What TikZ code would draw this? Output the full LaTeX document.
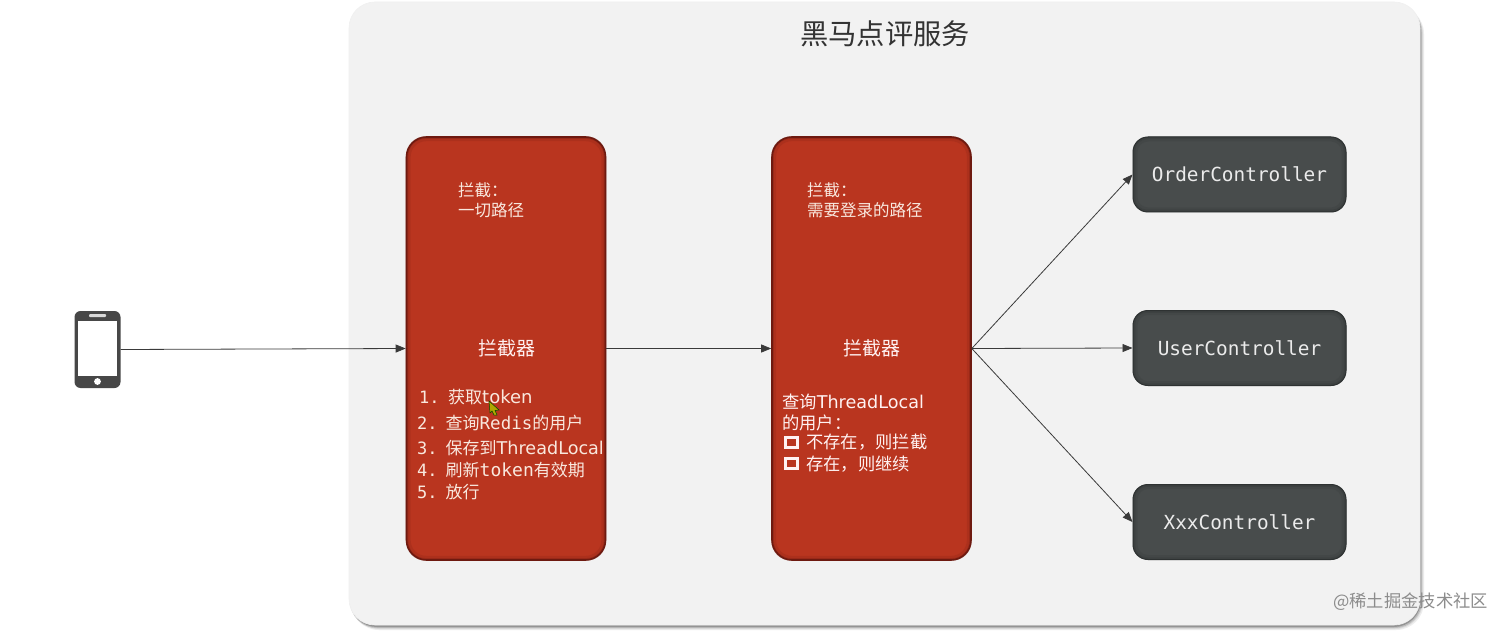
\documentclass[tikz,border=0pt]{standalone}
\usepackage{fontspec}
\setmainfont{Noto Sans CJK SC}
\newfontfamily\dvs{DejaVu Sans}
\newfontfamily\dvm{DejaVu Sans Mono}
\usetikzlibrary{arrows.meta}
\definecolor{panelc}{HTML}{F2F2F2}
\definecolor{redc}{HTML}{B9351F}
\definecolor{rededge}{HTML}{6E1A10}
\definecolor{darkc}{HTML}{484C4C}
\definecolor{darkedge}{HTML}{2E3232}
\definecolor{txtc}{HTML}{F9E8DE}
\definecolor{linec}{HTML}{3A3A3A}
\newcommand{\fs}[1]{\fontsize{#1pt}{#1pt}\selectfont}
\newcommand{\innerglow}[3]{%
  \draw[#2,line width=5pt,opacity=.16,rounded corners=#3] ([shift={(2.5pt,2.5pt)}]#1.south west) rectangle ([shift={(-2.5pt,-2.5pt)}]#1.north east);
  \draw[#2,line width=2.5pt,opacity=.28,rounded corners=#3] ([shift={(1.5pt,1.5pt)}]#1.south west) rectangle ([shift={(-1.5pt,-1.5pt)}]#1.north east);
}
\tikzset{
  x=1pt,y=-1pt,
  redbox/.style={draw=rededge,line width=1.6pt,fill=redc,rounded corners=20pt,minimum width=199pt,minimum height=423pt,inner sep=0pt},
  ctrl/.style={draw=darkedge,line width=1pt,fill=darkc,rounded corners=15pt,minimum width=213pt,minimum height=75pt,inner sep=0pt},
  ctrltext/.style={inner sep=0pt,text=white!92!black,font=\dvm\fs{19.4}},
  lbl/.style={anchor=west,inner sep=0pt,text=txtc,font=\fs{16.5}},
  mid/.style={inner sep=0pt,text=white!95!red,font=\fs{19}},
  item/.style={anchor=west,inner sep=0pt,text=txtc,font=\fs{17}},
  itemw/.style={anchor=west,inner sep=0pt,text=white!95!red,font=\fs{17.3}},
  chk/.style={draw=white!95!red,line width=3pt,minimum width=12pt,minimum height=10pt,inner sep=0pt},
  link/.style={draw=linec,line width=0.8pt,-{Stealth[length=10pt,width=8pt,inset=0pt]}},
}
\begin{document}
\begin{tikzpicture}
\path[use as bounding box,fill=white] (0,0) rectangle (1512,631);
% panel with soft shadow
\fill[black!7,rounded corners=28pt] (351,6) rectangle (1424,630);
\fill[black!14,rounded corners=28pt] (351,6) rectangle (1423,629);
\fill[black!26,rounded corners=27pt] (350,5) rectangle (1422,628);
\fill[black!42,rounded corners=27pt] (350,5) rectangle (1421,627);
\node[draw=white!94!black,line width=.6pt,fill=panelc,rounded corners=26pt,minimum width=1071pt,minimum height=623pt,inner sep=0pt] (panel) at (884.5,313.5) {};
\node[inner sep=0pt,text=black!80,font=\fs{28.3}] (title) at (885,34) {黑马点评服务};
% phone
\node[fill=black!72,rounded corners=6pt,minimum width=46pt,minimum height=77pt,inner sep=0pt] (phone) at (97.5,349.5) {};
\fill[white] (78,320.5) rectangle (117,375.5);
\fill[white!85!black,rounded corners=1pt] (89,314) rectangle (106,317);
\fill[white] (97.5,381.5) circle (3.4pt);
% boxes
\node[redbox] (b1) at (506,348.5) {};
\node[redbox] (b2) at (871.5,348.5) {};
\innerglow{b1}{rededge}{18pt}
\innerglow{b2}{rededge}{18pt}
\node[ctrl] (c1) at (1239.5,174.5) {};
\node[ctrl] (c2) at (1239.5,348) {};
\node[ctrl] (c3) at (1239.5,522) {};
\innerglow{c1}{darkedge}{13pt}
\innerglow{c2}{darkedge}{13pt}
\innerglow{c3}{darkedge}{13pt}
\node[ctrltext] (t1) at (c1) {OrderController};
\node[ctrltext] (t2) at (c2) {UserController};
\node[ctrltext] (t3) at (c3) {XxxController};
% connectors
\draw[link] (phone.east) -- (b1.west);
\draw[link] (b1.east) -- (b2.west);
\draw[link] (b2.east) -- (c1.west);
\draw[link] (b2.east) -- (c2.west);
\draw[link] (b2.east) -- (c3.west);
% box 1 text
\node[lbl] (a1) at (458,190) {拦截：};
\node[lbl] (a2) at (458,210) {一切路径};
\node[mid] (a3) at (506.5,348) {拦截器};
\node[item] (i1n) at (419,397) {{\dvm 1.}};
\node[item] (i1) at (448,397) {获取{\dvs\fs{18}token}};
\node[item] (i2n) at (417,423) {{\dvm 2.}};
\node[item] (i2) at (445.5,423) {查询{\dvm\fs{17.5}Redis}的用户};
\node[item] (i3n) at (417,448) {{\dvm 3.}};
\node[item] (i3) at (445.5,448) {保存到{\dvs\fs{17.6}ThreadLocal}};
\node[item] (i4n) at (417,470) {{\dvm 4.}};
\node[item] (i4) at (445.5,470) {刷新{\dvm\fs{18}token}有效期};
\node[item] (i5n) at (417,492) {{\dvm 5.}};
\node[item] (i5) at (445.5,492) {放行};
% cursor
\fill[draw=black!70!green,line width=.5pt,fill=olive!70!yellow] (489,401) -- (499,410) -- (495,410.5) -- (497,415) -- (494,415) -- (492,411) -- (490,413) -- cycle;
% box 2 text
\node[lbl] (d1) at (807,190) {拦截：};
\node[lbl] (d2) at (807,210) {需要登录的路径};
\node[mid] (d3) at (872,348) {拦截器};
\node[itemw] (e1) at (782,402) {查询{\dvs\fs{17.6}ThreadLocal}};
\node[itemw] (e2) at (782,423) {的用户：};
\node[chk] (k1) at (791.5,442.5) {};
\node[itemw] (e3) at (806,442) {不存在，则拦截};
\node[chk] (k2) at (791.5,463.5) {};
\node[itemw] (e4) at (806,464) {存在，则继续};
% watermark
\node[anchor=west,inner sep=0pt,text=black!45,font=\fs{17.3}] (wm) at (1333,602) {@稀土掘金技术社区};
\end{tikzpicture}
\end{document}
